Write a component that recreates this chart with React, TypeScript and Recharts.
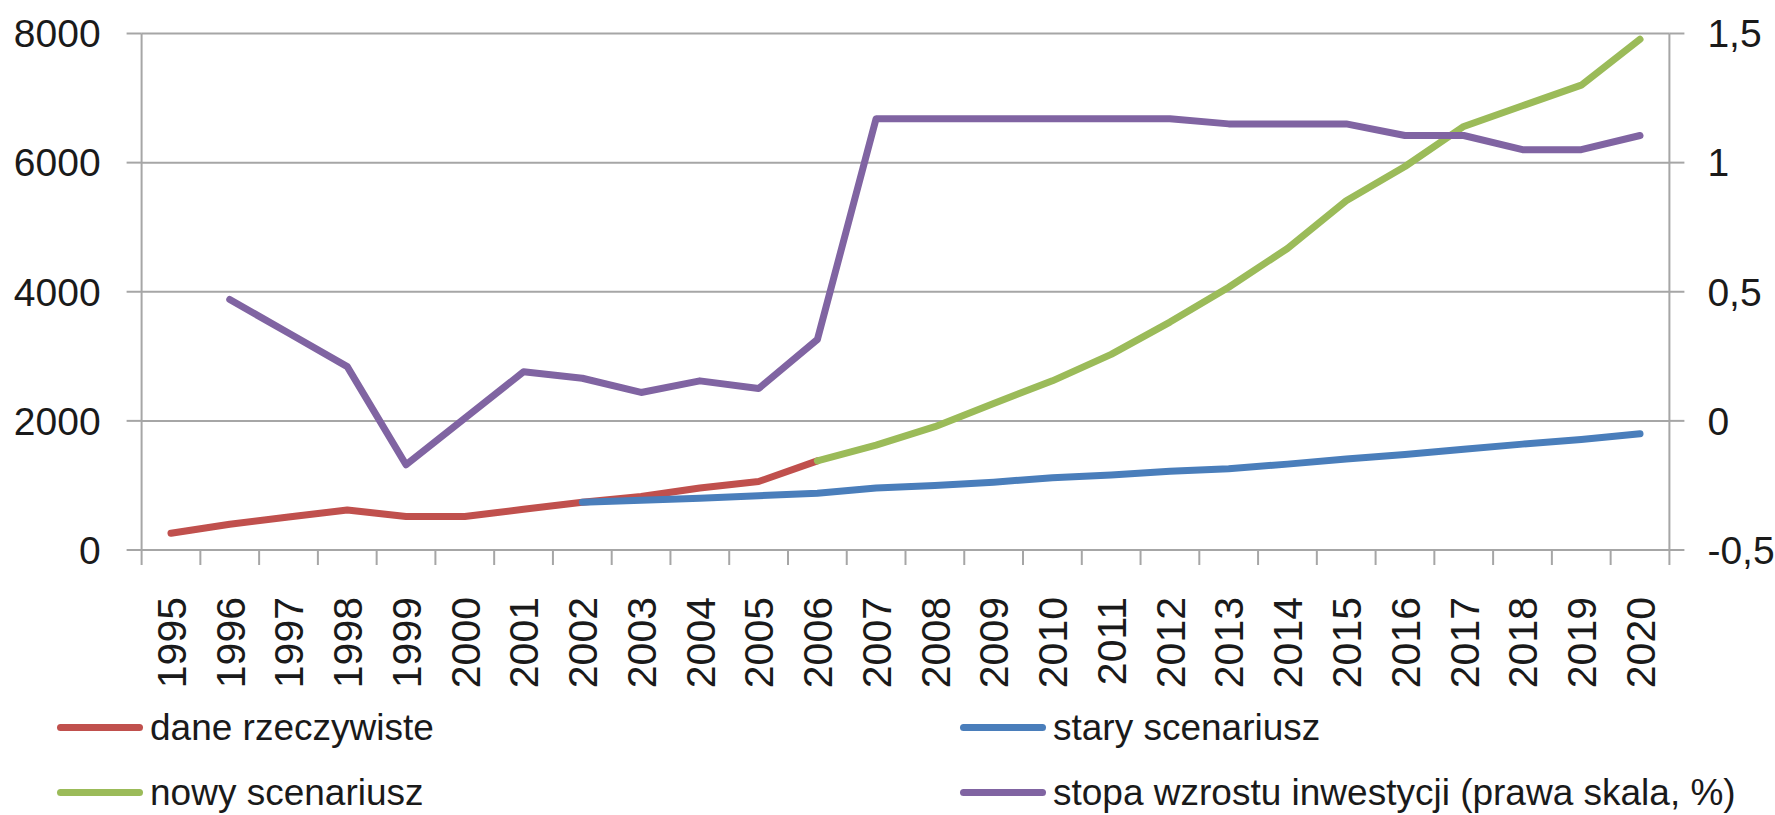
import {
  LineChart,
  Line,
  XAxis,
  YAxis,
  CartesianGrid,
  Legend,
} from "recharts";

const years = [
  "1995", "1996", "1997", "1998", "1999", "2000", "2001", "2002", "2003",
  "2004", "2005", "2006", "2007", "2008", "2009", "2010", "2011", "2012",
  "2013", "2014", "2015", "2016", "2017", "2018", "2019", "2020",
];

// dane rzeczywiste (lewa skala)
const actual = [
  260, 400, 510, 620, 520, 520, 630, 740, 830, 960, 1060, 1380,
  null, null, null, null, null, null, null, null, null, null, null, null, null, null,
];

// stary scenariusz
const oldScenario = [
  null, null, null, null, null, null, null,
  740, 770, 800, 840, 880, 960, 1000, 1050, 1120, 1160, 1220, 1260, 1330,
  1410, 1480, 1560, 1640, 1710, 1800,
];

// nowy scenariusz
const newScenario = [
  null, null, null, null, null, null, null, null, null, null, null,
  1380, 1625, 1910, 2270, 2620, 3030, 3530, 4070, 4670, 5410, 5940, 6560,
  6880, 7200, 7910,
];

// stopa wzrostu inwestycji (prawa skala, %)
const growth = [
  null, 0.47, 0.34, 0.21, -0.17, 0.01, 0.19, 0.165, 0.11, 0.155, 0.125, 0.315,
  1.17, 1.17, 1.17, 1.17, 1.17, 1.17, 1.15, 1.15, 1.15, 1.105, 1.105, 1.05,
  1.05, 1.105,
];

const leftTicks = [0, 2000, 4000, 6000, 8000];
const rightTicks = [-0.5, 0, 0.5, 1, 1.5];

// legend is filled row by row, two columns
const legendOrder = ["actual", "oldScenario", "newScenario", "growth"];

const data = years.map((year, i) => ({
  year,
  actual: actual[i],
  oldScenario: oldScenario[i],
  newScenario: newScenario[i],
  growth: growth[i],
}));

const W = 1775;
const H = 815;
const PLOT_LEFT = 141.6;
const PLOT_RIGHT = 1669.4;
const PLOT_TOP = 33.5;
const AXIS_Y = 550;
const BAND = (PLOT_RIGHT - PLOT_LEFT) / years.length;
const GRID = "#a6a6a6";
const FONT = "'Liberation Sans', Arial, sans-serif";
const TICK_LEN = 15;
const X_TICK_MARGIN = 32;

function YearTick(props: any) {
  const { x, y, payload, index } = props;
  const top = y - X_TICK_MARGIN - TICK_LEN;
  return (
    <g>
      <line x1={x - BAND / 2} x2={x - BAND / 2} y1={top} y2={top + TICK_LEN} stroke={GRID} strokeWidth={2} />
      {index === years.length - 1 && (
        <line x1={x + BAND / 2} x2={x + BAND / 2} y1={top} y2={top + TICK_LEN} stroke={GRID} strokeWidth={2} />
      )}
      <text
        transform={`translate(${x},${y}) rotate(-90)`}
        textAnchor="end"
        dy="0.36em"
        fontSize={41}
        fontFamily={FONT}
        fill="#1a1a1a"
      >
        {payload.value}
      </text>
    </g>
  );
}

function renderLegend(props: any) {
  const { payload = [] } = props;
  const items = [...payload].sort(
    (a: any, b: any) => legendOrder.indexOf(a.dataKey) - legendOrder.indexOf(b.dataKey)
  );
  return (
    <div
      style={{
        display: "grid",
        gridTemplateColumns: "903px auto",
        fontFamily: FONT,
        fontSize: 37,
        color: "#1a1a1a",
      }}
    >
      {items.map((entry: any) => (
        <div key={entry.value} style={{ display: "flex", alignItems: "center", height: 65, whiteSpace: "nowrap" }}>
          <span
            style={{
              display: "inline-block",
              width: 86,
              height: 7,
              borderRadius: 4,
              background: entry.color,
              marginRight: 7,
            }}
          />
          <span>{entry.value}</span>
        </div>
      ))}
    </div>
  );
}

export default function App() {
  return (
    <div style={{ position: "absolute", left: 0, top: 0, width: W, height: H, background: "#fff" }}>
      <LineChart
        width={W}
        height={H}
        data={data}
        margin={{ top: PLOT_TOP, right: 0, bottom: 0, left: 0 }}
      >
        <CartesianGrid vertical={false} stroke={GRID} strokeWidth={2} yAxisId="left" />
        <XAxis
          dataKey="year"
          interval={0}
          height={H - AXIS_Y}
          padding={{ left: BAND / 2, right: BAND / 2 }}
          axisLine={{ stroke: GRID, strokeWidth: 2 }}
          tickLine={false}
          tickSize={TICK_LEN}
          tickMargin={X_TICK_MARGIN}
          tick={<YearTick />}
        />
        <YAxis
          yAxisId="left"
          width={PLOT_LEFT}
          domain={[0, 8000]}
          ticks={leftTicks}
          interval={0}
          axisLine={{ stroke: GRID, strokeWidth: 2 }}
          tickLine={{ stroke: GRID, strokeWidth: 2 }}
          tickSize={TICK_LEN}
          tickMargin={26}
          tick={{ fontSize: 39, fontFamily: FONT, fill: "#1a1a1a" }}
        />
        <YAxis
          yAxisId="right"
          orientation="right"
          width={W - PLOT_RIGHT}
          domain={[-0.5, 1.5]}
          ticks={rightTicks}
          interval={0}
          axisLine={{ stroke: GRID, strokeWidth: 2 }}
          tickLine={{ stroke: GRID, strokeWidth: 2 }}
          tickSize={TICK_LEN}
          tickMargin={23}
          tickFormatter={(v: number) => String(v).replace(".", ",")}
          tick={{ fontSize: 39, fontFamily: FONT, fill: "#1a1a1a", textAnchor: "start" }}
        />
        <Legend
          content={renderLegend}
          wrapperStyle={{ top: 695, left: 57, width: 1700, height: 0 }}
        />
        <Line
          yAxisId="left"
          name="dane rzeczywiste"
          dataKey="actual"
          stroke="#c0504d"
          strokeWidth={7}
          strokeLinecap="round"
          strokeLinejoin="round"
          dot={false}
          isAnimationActive={false}
        />
        <Line
          yAxisId="left"
          name="stary scenariusz"
          dataKey="oldScenario"
          stroke="#4a7ebb"
          strokeWidth={7}
          strokeLinecap="round"
          strokeLinejoin="round"
          dot={false}
          isAnimationActive={false}
        />
        <Line
          yAxisId="left"
          name="nowy scenariusz"
          dataKey="newScenario"
          stroke="#9bbb59"
          strokeWidth={7}
          strokeLinecap="round"
          strokeLinejoin="round"
          dot={false}
          isAnimationActive={false}
        />
        <Line
          yAxisId="right"
          name="stopa wzrostu inwestycji (prawa skala, %)"
          dataKey="growth"
          stroke="#8064a2"
          strokeWidth={7}
          strokeLinecap="round"
          strokeLinejoin="round"
          dot={false}
          isAnimationActive={false}
        />
      </LineChart>
    </div>
  );
}
